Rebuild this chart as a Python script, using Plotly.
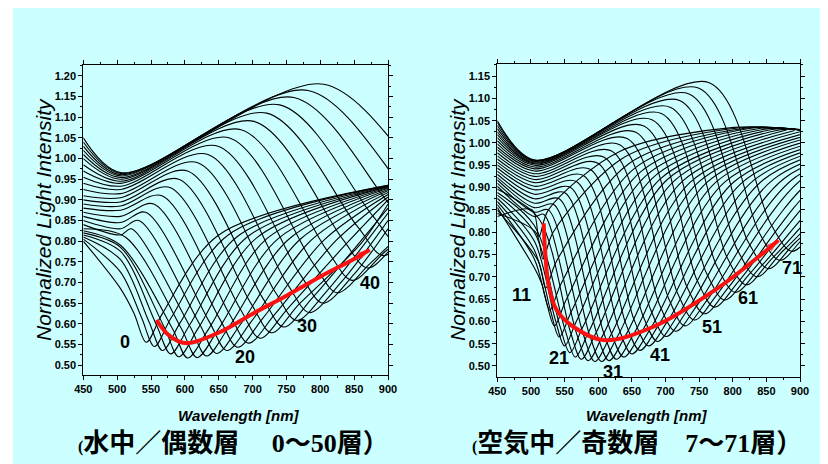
import plotly.graph_objects as go

# ---------------- data ----------------
START_NM = 450      # first sample of every spectrum
DIP_NM = 505        # sample near the common dip
EDGE_NM = 900       # right edge sample

# ---- left panel: in water, even layers 0..50 ----
water_layers = [0, 2, 4, 6, 8, 10, 12, 14, 16, 18, 20, 22, 24, 26, 28, 30, 32, 34, 36, 38, 40, 42, 44, 46, 48, 50]
water_v450 = [0.80, 0.805, 0.81, 0.815, 0.82, 0.825, 0.83, 0.84, 0.85, 0.86, 0.87, 0.88, 0.89, 0.90, 0.91, 0.925,
              0.94, 0.955, 0.97, 0.985, 1.00, 1.01, 1.02, 1.03, 1.04, 1.05]
water_v505 = [0.685, 0.725, 0.755, 0.775, 0.785, 0.79, None, 0.815, 0.83, 0.845, 0.86, 0.875, 0.885, 0.895, 0.905,
              0.915, 0.925, 0.933, 0.94, 0.945, 0.95, 0.954, 0.958, 0.961, 0.964, 0.966]
water_peak_nm = [None, None, None, None, None, None, 512, 521, 532, 542, 554, 566, 578, 591, 604, 619, 634, 649, 666,
                 683, 702, 721, 740, 761, 782, 805]
water_peak_v = [None, None, None, None, None, None, 0.81, 0.83, 0.85, 0.87, 0.89, 0.91, 0.93, 0.95, 0.97, 0.99, 1.01,
                1.03, 1.05, 1.07, 1.09, 1.11, 1.13, 1.148, 1.165, 1.18]
water_fall_nm = [525, 536, 547, 558, 570, 582, 595, 608, 622, 636, 651, 666, 682, 698, 715, 733, 751, 770, 790, 811,
                 833, 855, 878, 902, 927, 953]
water_side_v = [0.625, 0.615, 0.605, 0.597, 0.59, 0.587, 0.588, 0.592, 0.598, 0.605, 0.613, 0.623, 0.635, 0.648,
                0.662, 0.678, 0.697, 0.72, 0.745, 0.775, 0.805, 0.835, 0.86, 0.89, 0.92, 0.95]
water_min_nm = [543, 555, 567, 579, 591, 604, 618, 632, 647, 662, 678, 694, 711, 728, 746, 765, 784, 804, 825, 847,
                870, 893, 917, 942, 968, 995]
water_min_v = [0.555, 0.545, 0.535, 0.527, 0.520, 0.517, 0.518, 0.522, 0.528, 0.535, 0.543, 0.553, 0.565, 0.578,
               0.592, 0.608, 0.627, 0.65, 0.675, 0.705, 0.735, 0.765, 0.79, 0.82, 0.85, 0.88]
water_rise_nm = [567, 580, 594, 607, 620, 635, 650, 665, 682, 698, 715, 733, 751, 769, 788, 809, 829, 850, 873, 896,
                 920, 945, 970, 996, 1024, 1052]
water_knee_nm = [650, 664, 678, 692, 706, 721, 737, 753, 770, 787, 805, 823, 842, 861, None, None, None, None, None,
                 None, None, None, None, None, None, None]
water_knee_v = [0.815, 0.815, 0.812, 0.81, 0.808, 0.806, 0.805, 0.804, 0.804, 0.803, 0.802, 0.801, 0.80, 0.796, None,
                None, None, None, None, None, None, None, None, None, None, None]
water_end_nm = [900, 900, 900, 900, 900, 900, 900, 900, 900, 900, 900, 900, 900, 900, 900, 900, 900, 900, 940, 960,
                990, 1020, 1045, 1070, 1095, 1120]
water_end_v = [0.935, 0.935, 0.934, 0.933, 0.932, 0.93, 0.928, 0.925, 0.922, 0.918, 0.913, 0.907, 0.90, 0.89, 0.88,
               0.868, 0.85, 0.83, 0.85, 0.86, 0.87, 0.88, 0.9, 0.9, 0.9, 0.9]

water_arrow_nm = [558, 573, 590, 605, 652, 701, 750, 800, 850, 873]
water_arrow_v = [0.609, 0.577, 0.558, 0.553, 0.58, 0.625, 0.668, 0.714, 0.757, 0.779]
water_label_text = ["0", "20", "30", "40"]
water_label_nm = [512, 689, 781, 873]
water_label_v = [0.556, 0.52, 0.595, 0.698]

# ---- right panel: in air, odd layers 7..71 ----
air_layers = [7, 9, 11, 13, 15, 17, 19, 21, 23, 25, 27, 29, 31, 33, 35, 37, 39, 41, 43, 45, 47, 49, 51, 53, 55, 57,
              59, 61, 63, 65, 67, 69, 71]
air_v450 = [0.835, 0.842, 0.849, 0.855, 0.862, 0.869, 0.876, 0.883, 0.889, 0.896, 0.903, 0.910, 0.917, 0.923, 0.930,
            0.937, 0.944, 0.951, 0.957, 0.964, 0.971, 0.978, 0.985, 0.991, 0.998, 1.005, 1.012, 1.019, 1.025, 1.032,
            1.039, 1.046, 1.05]
air_v505 = [None, None, None, 0.72, 0.74, 0.76, 0.78, 0.80, 0.815, None, 0.835, 0.845, 0.855, 0.865, 0.875, 0.885,
            0.895, 0.903, 0.911, 0.918, 0.925, 0.931, 0.937, 0.942, 0.946, 0.95, 0.953, 0.955, 0.957, 0.959, 0.96,
            0.961, 0.962]
air_peak_nm = [None, None, None, None, None, None, None, None, None, 512, 519, 526, 534, 542, 551, 559, 568, 578,
               588, 599, 609, 620, 632, 643, 656, 668, 680, 694, 707, 721, 735, 749, 765]
air_peak_v = [None, None, None, None, None, None, None, None, None, 0.83, 0.84, 0.85, 0.862, 0.875, 0.888, 0.90,
              0.913, 0.927, 0.941, 0.955, 0.968, 0.982, 0.996, 1.01, 1.024, 1.038, 1.052, 1.066, 1.08, 1.095, 1.11,
              1.123, 1.135]
air_fall_nm = [502, 507, 511, 516, 522, 529, 536, 543, 551, 559, 568, 578, 587, 598, 608, 618, 630, 641, 653, 666,
               678, 691, 705, 718, 732, 747, 761, 776, 792, 807, 823, 840, 857]
air_side_v = [0.85, 0.80, 0.735, 0.685, 0.65, 0.625, 0.605, 0.59, 0.58, 0.575, 0.572, 0.57, 0.57, 0.572, 0.575, 0.58,
              0.587, 0.595, 0.605, 0.615, 0.626, 0.638, 0.65, 0.663, 0.677, 0.692, 0.708, 0.725, 0.742, 0.76, 0.778,
              0.797, 0.817]
air_min_nm = [512, 518, 522, 528, 535, 542, 550, 558, 566, 575, 585, 595, 605, 616, 627, 638, 650, 662, 675, 688, 701,
              715, 729, 743, 758, 773, 788, 804, 820, 836, 853, 870, 888]
air_min_v = [0.79, 0.74, 0.675, 0.625, 0.59, 0.565, 0.545, 0.53, 0.52, 0.515, 0.512, 0.51, 0.51, 0.512, 0.515, 0.52,
             0.527, 0.535, 0.545, 0.555, 0.566, 0.578, 0.59, 0.603, 0.617, 0.632, 0.648, 0.665, 0.682, 0.70, 0.718,
             0.737, 0.757]
air_rise_nm = [526, 533, 538, 545, 553, 561, 569, 578, 587, 597, 608, 619, 630, 642, 654, 666, 679, 691, 705, 719,
               733, 748, 763, 778, 794, 810, 826, 843, 859, 876, 894, 912, 931]
air_knee_nm = [632, 640, 646, 654, 663, 672, 682, 692, 702, 713, 725, 737, 749, 762, 775, 788, 802, 816, 831, 846,
               861, 877, 893, 909, 926, 943, 960, 978, 996, 1014, 1033, 1052, 1072]
air_knee_v = [0.981, 0.969, 0.954, 0.943, 0.935, 0.928, 0.923, 0.919, 0.917, 0.915, 0.914, 0.912, 0.912, 0.912, 0.912,
              0.912, 0.913, 0.914, 0.916, 0.918, 0.919, 0.921, 0.923, 0.926, 0.928, 0.931, 0.934, 0.936, 0.939, 0.943,
              0.946, 0.95, 0.954]
air_crest_nm = [802, 811, 818, 827, 837, 847, 858, 869, 880, 892, 905, 918, 931, 945, 959, 973, 988, 1003, 1019, 1035,
                1051, 1068, 1085, 1102, 1120, 1138, 1156, 1175, 1194, 1213, 1233, 1253, 1274]
air_crest_v = [1.035, 1.034, 1.033, 1.033, 1.032, 1.031, 1.03, 1.029, 1.029, 1.028, 1.027, 1.026, 1.025, 1.025, 1.024,
               1.023, 1.022, 1.021, 1.021, 1.02, 1.019, 1.018, 1.017, 1.017, 1.016, 1.015, 1.014, 1.013, 1.012, 1.011,
               1.011, 1.01, 1.009]
air_edge_v = [1.03, 1.03, 1.029, 1.029, 1.029, 1.029, 1.029, 1.029, None, None, None, None, None, None, None, None,
              None, None, None, None, None, None, None, None, None, None, None, None, None, None, None, None, None]

air_arrow_nm = [519, 521, 526, 538, 563, 608, 682, 781, 845, 868]
air_arrow_v = [0.82, 0.76, 0.685, 0.626, 0.588, 0.558, 0.588, 0.678, 0.753, 0.782]
air_label_text = ["11", "21", "31", "41", "51", "61", "71"]
air_label_nm = [486, 541, 622, 692, 769, 823, 888]
air_label_v = [0.659, 0.517, 0.487, 0.525, 0.588, 0.652, 0.719]

caption_left = '<span style="font-size:16px">(</span>水中／偶数層　 0～50層）'
caption_right = '<span style="font-size:16px">(</span>空気中／奇数層　7～71層）'

# ---------------- figure ----------------
W, H = 828, 464
OFF = 8  # page margin of the browser body
CYAN = "#ccffff"
SANS = "Liberation Sans, Arial, sans-serif"
CAPFONT = "Liberation Serif, Noto Sans CJK JP, serif"


def fx(px):
    return (px - OFF) / W


def fy(py):
    return 1 - (py - OFF) / H


def build(pts):
    pts = [p for p in pts if p[0] is not None and p[1] is not None]
    pts.sort(key=lambda p: p[0])
    out = []
    for p in pts:
        if out and p[0] - out[-1][0] < 6:
            continue
        out.append(p)
    return [p[0] for p in out], [p[1] for p in out]


fig = go.Figure()

for i in range(len(water_layers)):
    pts = [(START_NM, water_v450[i]), (DIP_NM, water_v505[i]), (water_peak_nm[i], water_peak_v[i]),
           (water_fall_nm[i], water_side_v[i]), (water_min_nm[i], water_min_v[i]),
           (water_rise_nm[i], water_side_v[i]), (water_knee_nm[i], water_knee_v[i]),
           (water_end_nm[i], water_end_v[i])]
    xs, ys = build(pts)
    fig.add_trace(go.Scatter(x=xs, y=ys, mode="lines", xaxis="x", yaxis="y",
                             line=dict(color="black", width=1.1, shape="spline", smoothing=0.9),
                             hoverinfo="skip", name=f"{water_layers[i]}"))

for i in range(len(air_layers)):
    pts = [(START_NM, air_v450[i]), (DIP_NM, air_v505[i]), (air_peak_nm[i], air_peak_v[i]),
           (air_fall_nm[i], air_side_v[i]), (air_min_nm[i], air_min_v[i]),
           (air_rise_nm[i], air_side_v[i]), (air_knee_nm[i], air_knee_v[i]),
           (air_crest_nm[i], air_crest_v[i]), (EDGE_NM if air_edge_v[i] is not None else None, air_edge_v[i])]
    xs, ys = build(pts)
    fig.add_trace(go.Scatter(x=xs, y=ys, mode="lines", xaxis="x2", yaxis="y2",
                             line=dict(color="black", width=1.1, shape="spline", smoothing=0.9),
                             hoverinfo="skip", name=f"{air_layers[i]}"))


def arrow_trace(xs, ys, xa, ya):
    n = len(xs)
    return go.Scatter(x=xs, y=ys, mode="lines+markers", xaxis=xa, yaxis=ya,
                      line=dict(color="#ff1010", width=4, shape="spline"),
                      marker=dict(symbol=["circle"] * (n - 1) + ["arrow"], size=[0] * (n - 1) + [13],
                                  angleref="previous", color="#ff1010", line=dict(width=0)),
                      hoverinfo="skip", cliponaxis=False)


fig.add_trace(arrow_trace(water_arrow_nm, water_arrow_v, "x", "y"))
fig.add_trace(arrow_trace(air_arrow_nm, air_arrow_v, "x2", "y2"))

tickfont = dict(family=SANS, size=11, color="black", weight="bold")
xcommon = dict(range=[450, 900], tick0=450, dtick=50, ticks="outside", ticklen=4, tickwidth=1, tickcolor="black",
               showline=True, linecolor="black", linewidth=1, mirror="ticks", showgrid=False, zeroline=False,
               automargin=False, tickfont=tickfont,
               minor=dict(dtick=25, ticks="outside", ticklen=2, tickcolor="black"))
ycommon = dict(tick0=0.5, dtick=0.05, tickformat=".2f", ticks="outside", ticklen=4, tickwidth=1, tickcolor="black",
               showline=True, linecolor="black", linewidth=1, mirror="ticks", showgrid=False, zeroline=False,
               automargin=False, tickfont=tickfont,
               minor=dict(dtick=0.025, ticks="outside", ticklen=2, tickcolor="black"))

fig.update_layout(
    width=W, height=H, margin=dict(l=0, r=0, t=0, b=0, pad=0, autoexpand=False),
    paper_bgcolor="white", plot_bgcolor="rgba(0,0,0,0)", showlegend=False,
    xaxis=dict(domain=[fx(83.3), fx(388)], anchor="y", **xcommon),
    yaxis=dict(domain=[fy(375), fy(65)], anchor="x", range=[0.4758, 1.2266], **ycommon),
    xaxis2=dict(domain=[fx(497.3), fx(800)], anchor="y2", **xcommon),
    yaxis2=dict(domain=[fy(376.7), fy(64)], anchor="x2", range=[0.476, 1.177], **ycommon),
    shapes=[dict(type="rect", xref="paper", yref="paper", x0=fx(13), x1=1, y0=0, y1=1,
                 fillcolor=CYAN, line=dict(width=0), layer="below")],
)

ann = []
labfont = dict(family=SANS, size=18, color="black", weight="bold")
for t, x, y in zip(water_label_text, water_label_nm, water_label_v):
    ann.append(dict(text=t, x=x, y=y, xref="x", yref="y", showarrow=False, font=labfont))
for t, x, y in zip(air_label_text, air_label_nm, air_label_v):
    ann.append(dict(text=t, x=x, y=y, xref="x2", yref="y2", showarrow=False, font=labfont))

ytitle_font = dict(family=SANS, size=21, color="black", style="italic")
for px in (43, 457):
    ann.append(dict(text="Normalized Light Intensity", x=fx(px), y=fy(220), xref="paper", yref="paper",
                    textangle=-90, showarrow=False, font=ytitle_font, xanchor="center", yanchor="middle"))
xtitle_font = dict(family=SANS, size=15, color="black", style="italic", weight="bold")
for px in (239, 647):
    ann.append(dict(text="Wavelength [nm]", x=fx(px), y=fy(415), xref="paper", yref="paper",
                    showarrow=False, font=xtitle_font, xanchor="center", yanchor="middle"))
capfont = dict(family=CAPFONT, size=26, color="black", weight="bold")
ann.append(dict(text=caption_left, x=fx(233), y=fy(443), xref="paper", yref="paper", showarrow=False,
                font=capfont, xanchor="center", yanchor="middle"))
ann.append(dict(text=caption_right, x=fx(637), y=fy(443), xref="paper", yref="paper", showarrow=False,
                font=capfont, xanchor="center", yanchor="middle"))
fig.update_layout(annotations=ann)

fig.write_html("out.html")
